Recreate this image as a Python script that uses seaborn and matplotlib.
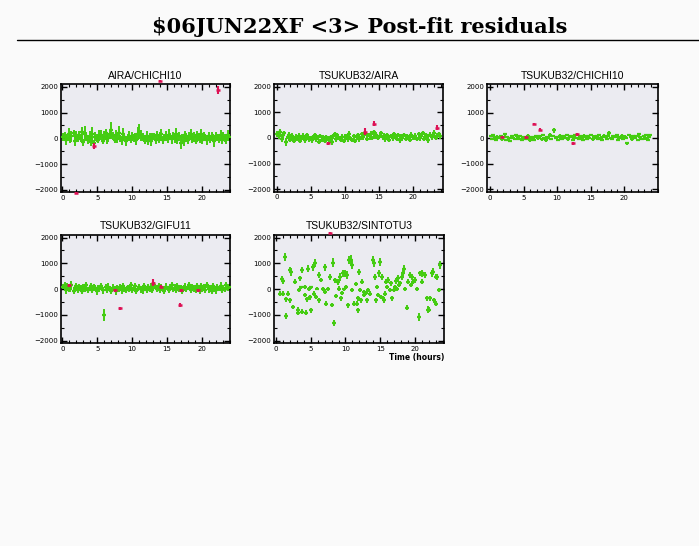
import matplotlib
matplotlib.use("Agg")
import matplotlib.pyplot as plt
import seaborn as sns
import numpy as np
import pandas as pd
from matplotlib.ticker import MultipleLocator

sns.set_theme(style="white")
plt.rcParams['font.family'] = ['DejaVu Sans']

main_title = "$06JUN22XF <3> Post-fit residuals"
panel_titles = ["AIRA/CHICHI10", "TSUKUB32/AIRA", "TSUKUB32/CHICHI10",
                "TSUKUB32/GIFU11", "TSUKUB32/SINTOTU3"]
xlabel_text = "Time (hours)"
y_ticks = [-2000, -1000, 0, 1000, 2000]
x_ticks = [0, 5, 10, 15, 20]

# scan times shared by first four baselines (hours)
t_scan = [
    0.1, 0.3, 0.5, 0.7, 0.9, 1.1, 1.3, 1.6, 1.8, 2.0, 2.2, 2.4,
    2.6, 2.8, 3.0, 3.2, 3.4, 3.7, 3.9, 4.1, 4.3, 4.5, 4.7, 4.9,
    5.1, 5.3, 5.6, 5.8, 6.0, 6.2, 6.4, 6.6, 6.8, 7.0, 7.2, 7.5,
    7.7, 7.9, 8.1, 8.3, 8.5, 8.7, 8.9, 9.1, 9.4, 9.6, 9.8, 10.0,
    10.2, 10.4, 10.6, 10.8, 11.0, 11.3, 11.5, 11.7, 11.9, 12.1, 12.3, 12.5,
    12.7, 12.9, 13.2, 13.4, 13.6, 13.8, 14.0, 14.2, 14.4, 14.6, 14.8, 15.1,
    15.3, 15.5, 15.7, 15.9, 16.1, 16.3, 16.5, 16.7, 17.0, 17.2, 17.4, 17.6,
    17.8, 18.0, 18.2, 18.4, 18.6, 18.9, 19.1, 19.3, 19.5, 19.7, 19.9, 20.1,
    20.3, 20.5, 20.8, 21.0, 21.2, 21.4, 21.6, 21.8, 22.0, 22.2, 22.4, 22.7,
    22.9, 23.1, 23.3, 23.5, 23.7, 23.9,
]

# AIRA/CHICHI10
v1 = [
    50, 120, -80, 30, 150, -40, 80, 200, -100, 60, -20, 110,
    0, 250, -150, 180, 90, -60, 40, -120, 150, -200, 70, 20,
    -50, 100, 130, -90, 60, 200, -30, 10, 150, 310, 80, -60,
    120, -40, 220, 0, -80, 160, 50, -110, 30, 90, -20, 70,
    10, 40, -60, 180, 260, 120, 60, 0, -40, 100, -90, 50,
    -120, 30, 80, -50, 110, -30, 60, 150, -70, 20, 90, -10,
    140, 60, -40, 100, 0, 180, -60, 80, -180, 40, -100, 120,
    30, -50, 90, 160, -20, 60, -90, 110, 40, -10, 150, -60,
    80, 20, -70, 100, -30, 60, 0, -110, 90, 40, -20, 130,
    -60, 70, 10, -40, 120, 50,
]
e1 = [
    160, 130, 190, 140, 240, 160, 210, 130, 180, 220, 140, 190,
    160, 190, 130, 300, 140, 180, 240, 160, 280, 140, 190, 160,
    130, 210, 180, 140, 220, 160, 190, 140, 180, 320, 160, 140,
    210, 160, 260, 140, 180, 240, 160, 190, 140, 210, 160, 180,
    140, 160, 190, 250, 300, 210, 160, 140, 180, 190, 160, 140,
    180, 160, 140, 190, 160, 140, 180, 210, 160, 140, 190, 160,
    210, 140, 180, 160, 190, 240, 160, 180, 220, 140, 190, 160,
    160, 180, 140, 210, 160, 190, 140, 180, 160, 190, 210, 160,
    180, 140, 190, 160, 140, 180, 160, 210, 160, 140, 180, 190,
    160, 180, 140, 190, 210, 160,
]
rt1 = [4.5, 22.3, 14.0, 2.0]
rv1 = [-300, 1880, 2230, -2110]
re1 = [100, 150, 20, 20]

# TSUKUB32/AIRA
v2 = [
    150, 60, 250, -20, 100, 180, -150, 40, 120, -60, 80, 10,
    -100, 50, -40, 90, -120, 0, 60, -80, 30, 120, -50, 10,
    -90, 40, 110, -30, 20, -140, 80, -60, 0, -100, 50, -20,
    -80, 30, -150, 60, 150, -40, 100, 0, -60, 40, -110, 20,
    70, -30, 140, 0, -80, 60, -120, 30, 100, -50, 0, 160,
    40, 200, -20, 110, 60, 150, 0, 220, 80, 130, -10, 90,
    180, 20, 60, -40, 120, 30, -60, 90, 0, 140, 50, -30,
    100, -80, 60, 0, 120, -20, 70, 40, -60, 110, 20, 0,
    80, -40, 150, 20, 60, 200, -20, 100, 40, -60, 130, 30,
    70, 180, 0, 90, 140, 60,
]
e2 = [
    110, 80, 120, 130, 90, 110, 150, 80, 120, 90, 110, 80,
    90, 120, 80, 110, 90, 80, 120, 110, 80, 90, 120, 80,
    110, 80, 90, 120, 80, 110, 90, 80, 120, 110, 80, 90,
    120, 80, 110, 90, 80, 120, 110, 80, 90, 110, 80, 120,
    80, 110, 120, 90, 80, 110, 90, 120, 80, 110, 90, 80,
    110, 130, 90, 80, 120, 110, 80, 90, 110, 120, 80, 90,
    90, 80, 120, 110, 80, 90, 110, 80, 120, 90, 110, 80,
    80, 110, 90, 120, 80, 110, 90, 80, 110, 120, 80, 90,
    110, 80, 90, 120, 110, 80, 90, 110, 80, 120, 90, 110,
    80, 120, 90, 110, 80, 90,
]
rt2 = [7.5, 13.0, 14.3, 23.5]
rv2 = [-200, 250, 550, 400]
re2 = [60, 150, 100, 100]

# TSUKUB32/CHICHI10
v3 = [
    80, -40, 120, 20, -80, 60, 0, 100, -30, 50, 150, -60,
    40, 0, -100, 70, 20, -50, 110, 30, -20, 80, -70, 10,
    60, -30, 100, 0, -90, 50, 20, -60, 90, 30, -10, 70,
    -40, 120, 0, -80, 60, 20, 130, -20, 80, 300, 0, 50,
    -60, 100, 20, -30, 70, 0, 140, -50, 40, 90, -70, 30,
    110, 0, -40, 80, 20, -60, 100, 30, -20, 70, 10, 130,
    -50, 60, 0, 90, -30, 120, 20, -60, 80, 40, -20, 100,
    200, 10, -40, 70, 30, 110, -60, 50, 0, 90, -30, 60,
    20, -200, 130, 40, -50, 100, 10, 70, -80, 150, 30, -20,
    90, 0, 120, -60, 50, 140,
]
e3 = [
    50, 40, 60, 50, 40, 60, 50, 40, 70, 50, 60, 40,
    50, 60, 40, 50, 70, 40, 50, 60, 40, 50, 60, 50,
    40, 60, 50, 40, 60, 50, 40, 70, 50, 40, 60, 50,
    60, 40, 50, 60, 40, 50, 70, 40, 50, 80, 40, 50,
    40, 60, 50, 40, 60, 50, 40, 60, 50, 40, 60, 50,
    60, 40, 50, 60, 40, 50, 60, 40, 50, 60, 40, 50,
    50, 60, 40, 50, 60, 40, 50, 60, 70, 40, 50, 60,
    70, 40, 50, 60, 40, 50, 60, 40, 50, 60, 40, 50,
    50, 60, 40, 50, 60, 40, 50, 60, 40, 50, 60, 40,
    50, 60, 40, 50, 60, 40,
]
rt3 = [1.8, 5.3, 6.6, 7.4, 12.3, 13.0]
rv3 = [50, 30, 550, 330, -200, 150]
re3 = [50, 50, 50, 60, 50, 60]

# TSUKUB32/GIFU11
v4 = [
    100, 150, -50, 120, 40, 0, 180, -80, 60, 120, -30, 80,
    40, -60, 100, 0, 150, -40, 60, 120, -20, 80, 30, -80,
    50, 0, 120, -40, -1000, 80, -30, 100, 20, -60, 60, 10,
    -80, 40, 0, 100, -50, 120, 30, -40, 80, 0, 150, -20,
    60, 120, -70, 20, 90, 0, -50, 130, 40, -30, 80, 10,
    100, -40, 150, 60, 0, 120, -20, 80, 40, -60, 100, 30,
    -20, 80, 150, 0, 60, -40, 120, 30, 70, -80, 40, 100,
    0, 60, 160, -30, 80, 20, -40, 110, 50, -60, 130, 0,
    80, -40, 160, 0, 60, -80, 120, 30, -50, 100, 20, 140,
    -30, 60, 0, 150, 40, 100,
]
e4 = [
    110, 130, 120, 100, 140, 110, 130, 120, 110, 100, 130, 120,
    110, 140, 100, 120, 130, 110, 120, 100, 130, 110, 120, 140,
    120, 110, 100, 130, 220, 110, 120, 140, 100, 110, 130, 120,
    130, 110, 120, 100, 140, 110, 130, 120, 100, 110, 130, 120,
    110, 120, 130, 100, 110, 140, 120, 110, 100, 130, 110, 120,
    120, 110, 130, 100, 110, 120, 140, 110, 100, 120, 130, 110,
    110, 130, 120, 100, 140, 110, 120, 130, 100, 110, 120, 130,
    120, 110, 130, 100, 120, 140, 110, 120, 100, 130, 110, 120,
    130, 110, 120, 140, 100, 120, 110, 130, 120, 100, 110, 130,
    120, 110, 100, 130, 120, 110,
]
rt4 = [1.0, 7.6, 8.3, 13.0, 14.2, 16.9, 17.0, 19.4]
rv4 = [150, -50, -750, 250, 100, -600, -50, -50]
re4 = [60, 60, 60, 130, 50, 80, 50, 60]

# TSUKUB32/SINTOTU3
t5 = [
    1.34, 0.86, 0.96, 0.58, 0.96, 1.44, 1.39, 1.78, 2.1, 2.0, 2.0, 2.73,
    2.5, 3.1, 3.2, 3.45, 3.35, 3.6, 3.8, 3.8, 4.2, 4.2, 4.3, 4.4,
    4.65, 4.75, 4.9, 5.04, 5.08, 5.37, 5.6, 5.5, 5.75, 5.95, 6.2, 6.2,
    6.5, 6.7, 7.0, 7.1, 7.2, 7.5, 7.8, 8.0, 8.15, 8.35, 8.5, 8.6,
    8.9, 9.0, 9.2, 9.35, 9.55, 9.7, 9.8, 10.0, 10.1, 10.2, 10.35, 10.5,
    10.8, 10.9, 11.0, 11.3, 11.5, 11.6, 11.75, 11.9, 11.85, 12.1, 12.2, 12.4,
    12.6, 12.7, 12.9, 13.1, 13.3, 13.5, 13.9, 14.1, 14.2, 14.4, 14.5, 14.7,
    14.9, 15.0, 15.1, 15.25, 15.45, 15.6, 15.7, 15.9, 16.05, 16.2, 16.4, 16.55,
    16.75, 17.0, 17.1, 17.3, 17.45, 17.6, 17.75, 17.9, 18.1, 18.3, 18.45, 18.6,
    18.8, 19.05, 19.3, 19.4, 19.65, 19.8, 20.0, 20.25, 20.6, 20.8, 21.0, 21.1,
    21.45, 21.7, 21.85, 22.05, 22.15, 22.4, 22.65, 22.8, 23.1, 23.25, 23.45, 23.6,
    23.0,
]
v5 = [
    1260, 390, 310, -170, -170, -1050, -400, -170, 675, 740, -430, 285,
    -690, -820, -910, 415, -40, 65, 740, -880, 90, -230, -910, -400,
    800, 0, -320, 65, -820, 840, 1000, -170, -300, 25, -430, 545,
    350, -10, 840, -100, -560, 0, 480, -620, 1030, -1310, 350, -270,
    285, 25, 480, -360, -140, 610, -10, 610, 90, 545, -620, 1130,
    1130, 935, -40, -560, 195, -560, -360, 675, -820, -40, -430, 285,
    -100, -230, -140, -430, -40, -170, 1130, 1000, 480, -430, 90, -230,
    610, 1065, -300, 480, -360, -430, -170, 285, 90, 350, -40, 220,
    -360, -40, 90, 325, 0, 415, 155, 220, 480, 640, 800, -10,
    -715, 285, 545, 155, 480, 285, 350, -10, -1080, 610, 285, 610,
    545, -360, -790, -790, -360, 610, 675, -430, -560, 480, -40, 935,
    480,
]
e5 = [
    150, 120, 100, 90, 80, 110, 90, 80, 150, 120, 100, 90,
    80, 110, 100, 90, 80, 70, 120, 100, 80, 90, 110, 100,
    120, 80, 90, 70, 100, 130, 150, 80, 90, 70, 100, 110,
    90, 80, 120, 90, 100, 80, 110, 90, 160, 130, 100, 90,
    110, 80, 150, 90, 80, 120, 70, 140, 90, 150, 100, 170,
    180, 150, 80, 100, 90, 110, 90, 120, 100, 80, 100, 90,
    80, 90, 70, 100, 80, 90, 170, 140, 110, 100, 80, 90,
    120, 150, 90, 110, 100, 90, 80, 100, 90, 110, 80, 90,
    100, 80, 90, 110, 80, 120, 90, 100, 130, 120, 150, 80,
    110, 100, 120, 90, 110, 100, 120, 80, 140, 110, 100, 120,
    110, 90, 120, 110, 90, 120, 130, 100, 90, 110, 80, 150,
    100,
]
rt5 = [7.8]
rv5 = [2190]
re5 = [20]

panels = [
    (t_scan, v1, e1, rt1, rv1, re1),
    (t_scan, v2, e2, rt2, rv2, re2),
    (t_scan, v3, e3, rt3, rv3, re3),
    (t_scan, v4, e4, rt4, rv4, re4),
    (t5, v5, e5, rt5, rv5, re5),
]

# axes boxes in pixels: left, right, top, bottom
boxes = [
    (60.7, 230.0, 84.3, 192.3),
    (274.0, 443.3, 84.3, 191.7),
    (486.7, 658.3, 84.3, 192.0),
    (60.7, 230.0, 235.0, 343.3),
    (274.0, 444.0, 235.0, 343.3),
]
xlims = [(-0.25, 24.05), (-0.4, 24.4), (-0.5, 25.1), (-0.25, 24.05), (-0.3, 24.2)]

W, H = 699, 546
fig = plt.figure(figsize=(W / 100, H / 100), dpi=100)
fig.patch.set_facecolor("#fafafa")

GREEN = "#44cc11"
RED = "#dd1155"

fig.text(360 / W, 1 - 27 / H, main_title, ha="center", va="center",
         fontsize=15, fontweight="bold", family="DejaVu Serif", color="black")
fig.add_artist(plt.Line2D([17 / W, 1.0], [1 - 40 / H, 1 - 40 / H],
                          color="black", lw=1.0, transform=fig.transFigure))

for i, (box, (tt, vv, ee, rt, rv, re)) in enumerate(zip(boxes, panels)):
    l, r, t, b = box
    ax = fig.add_axes([l / W, 1 - b / H, (r - l) / W, (b - t) / H])
    ax.set_facecolor("#ebebf1")
    n = min(len(tt), len(vv), len(ee))
    df = pd.DataFrame({"t": tt[:n], "v": vv[:n], "e": ee[:n]})
    ax.errorbar(df["t"], df["v"], yerr=df["e"], fmt="none", ecolor=GREEN,
                elinewidth=1.4, capsize=0, zorder=2)
    sns.scatterplot(data=df, x="t", y="v", ax=ax, marker="_", s=6,
                    color=GREEN, linewidth=1.6, zorder=3, legend=False)
    dfr = pd.DataFrame({"t": rt, "v": rv, "e": re})
    eb = ax.errorbar(dfr["t"], dfr["v"], yerr=dfr["e"], fmt="none", ecolor=RED,
                     elinewidth=1.5, capsize=0, zorder=4)
    for art in eb.get_children():
        art.set_clip_on(False)
    n_before = len(ax.collections)
    sns.scatterplot(data=dfr, x="t", y="v", ax=ax, marker="_", s=8,
                    color=RED, linewidth=1.8, zorder=5, legend=False)
    for coll in ax.collections[n_before:]:
        coll.set_clip_on(False)
    ax.set_xlim(*xlims[i])
    ax.set_ylim(-2100, 2100)
    ax.set_xticks(x_ticks)
    ax.set_yticks(y_ticks)
    ax.xaxis.set_minor_locator(MultipleLocator(1))
    ax.yaxis.set_minor_locator(MultipleLocator(500))
    ax.tick_params(which="both", direction="in", top=True, right=True,
                   bottom=True, left=True, colors="black", labelsize=5,
                   pad=2)
    ax.tick_params(which="major", length=4, width=1)
    ax.tick_params(which="minor", length=2, width=0.8)
    ax.set_xlabel("")
    ax.set_ylabel("")
    for s in ax.spines.values():
        s.set_visible(True)
        s.set_color("black")
        s.set_linewidth(1.2)
    ax.set_title(panel_titles[i], fontsize=7.5, family="Liberation Sans",
                 color="black", pad=4)
    if i == 4:
        ax.text(1.0, -0.13, xlabel_text, transform=ax.transAxes, ha="right",
                va="center", fontsize=5.5, fontweight="bold", color="black")

fig.savefig("out.png", dpi=100, facecolor=fig.get_facecolor())
